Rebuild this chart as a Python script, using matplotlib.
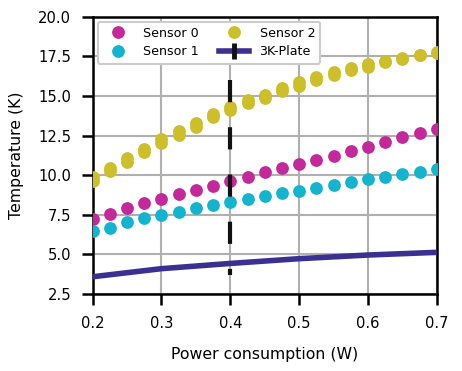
import matplotlib
matplotlib.use("Agg")
import matplotlib.pyplot as plt
from matplotlib.lines import Line2D

power = [0.2, 0.225, 0.25, 0.275, 0.3, 0.325, 0.35, 0.375, 0.4, 0.425, 0.45,
         0.475, 0.5, 0.525, 0.55, 0.575, 0.6, 0.625, 0.65, 0.675, 0.7]
sensor0 = [7.23, 7.55, 7.9, 8.22, 8.49, 8.79, 9.06, 9.33, 9.63, 9.9, 10.18,
           10.43, 10.7, 10.95, 11.23, 11.54, 11.8, 12.11, 12.38, 12.64, 12.89]
sensor1 = [6.47, 6.68, 7.02, 7.27, 7.48, 7.69, 7.9, 8.12, 8.33, 8.49, 8.7,
           8.85, 9.02, 9.21, 9.38, 9.59, 9.73, 9.86, 10.05, 10.22, 10.39]
sensor2_low = [9.65, 10.25, 10.85, 11.45, 12.05, 12.55, 13.05, 13.65, 14.1, 14.55, 14.9,
               15.28, 15.65, 16.02, 16.3, 16.62, 16.85, 17.12, 17.35, 17.57, 17.74]
sensor2_high = [9.88, 10.48, 11.08, 11.68, 12.28, 12.78, 13.28, 13.88, 14.3, 14.75, 15.08,
                15.47, 15.85, 16.22, 16.5, 16.76, 17.0, 17.2, 17.4, 17.6, 17.78]
plate_power = [0.2, 0.3, 0.4, 0.5, 0.6, 0.7]
plate_temp = [3.59, 4.1, 4.43, 4.73, 4.96, 5.13]
marker_power = 0.4
marker_range = [16.0, 3.7]

c0 = "#c4299b"
c1 = "#14b4cf"
c2 = "#cdbf2a"
cp = "#3a3092"

plt.rcParams['font.family'] = ['DejaVu Sans']
plt.rcParams['lines.scale_dashes'] = False

fig = plt.figure(figsize=(4.62, 3.71), dpi=100)
ax = fig.add_axes([0.2006, 0.2075, 0.7447, 0.7475])

ax.grid(True, color="#b0b0b0", lw=1.5, zorder=0)
ax.set_axisbelow(True)

ms = 9.2
ax.plot(power, sensor0, 'o', color=c0, ms=ms, mew=0, zorder=3)
ax.plot(power, sensor1, 'o', color=c1, ms=ms, mew=0, zorder=3)
ax.plot(power, sensor2_low, 'o', color=c2, ms=ms, mew=0, zorder=3)
ax.plot(power, sensor2_high, 'o', color=c2, ms=ms, mew=0, zorder=3)
ax.plot(plate_power, plate_temp, '-', color=cp, lw=4, zorder=4, solid_capstyle='butt')
ax.plot([marker_power, marker_power], marker_range, color='#111111', lw=3,
        dashes=(16, 18), zorder=5)

ax.set_xlim(0.2, 0.7)
ax.set_ylim(2.5, 20.0)
ax.set_xticks([0.2, 0.3, 0.4, 0.5, 0.6, 0.7])
ax.set_yticks([2.5, 5.0, 7.5, 10.0, 12.5, 15.0, 17.5, 20.0])
ax.set_xticklabels(["0.2", "0.3", "0.4", "0.5", "0.6", "0.7"])
ax.set_yticklabels(["2.5", "5.0", "7.5", "10.0", "12.5", "15.0", "17.5", "20.0"])
ax.tick_params(axis='both', length=8, width=1.8, labelsize=10.6, pad=8, color='black')
ax.tick_params(axis='y', pad=7.5)
for s in ax.spines.values():
    s.set_linewidth(1.8)

ax.set_xlabel("Power consumption (W)", fontsize=11.3, labelpad=11)
ax.set_ylabel("Temperature (K)", fontsize=11.3, labelpad=10)

handles = [
    Line2D([], [], marker='o', ls='', color=c0, ms=ms, mew=0),
    Line2D([], [], marker='o', ls='', color=c1, ms=ms, mew=0),
    Line2D([], [], marker='o', ls='', color=c2, ms=ms, mew=0),
    Line2D([], [], color=cp, lw=4, marker='|', ms=11, mew=3.5, mec='#111111'),
]
labels = ["Sensor 0", "Sensor 1", "Sensor 2", "3K-Plate"]
leg = ax.legend(handles, labels, ncol=2, loc='upper left', fontsize=9.1,
                numpoints=1, frameon=True, framealpha=1, edgecolor='#cccccc',
                borderaxespad=0.4, columnspacing=1.6, handletextpad=0.8,
                handlelength=2.4, labelspacing=0.45, borderpad=0.4)
leg.get_frame().set_linewidth(1.5)

fig.savefig("out.png", dpi=100)
